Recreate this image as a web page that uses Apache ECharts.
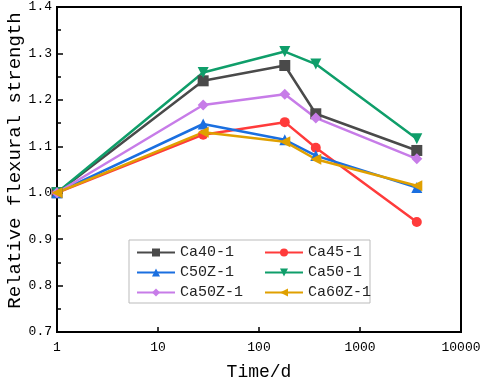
<!DOCTYPE html>
<html>
<head>
<meta charset="utf-8">
<script src="https://cdn.jsdelivr.net/npm/echarts@6/dist/echarts.min.js"></script>
<style>
html, body { margin: 0; padding: 0; background: #fff; }
#main { width: 484px; height: 385px; }
</style>
</head>
<body>
<div id="main"></div>
<script>
var days = [1, 28, 180, 365, 3650];
var ca40 = [1.0, 1.241, 1.274, 1.170, 1.091];
var ca45 = [1.0, 1.125, 1.152, 1.097, 0.937];
var c50z = [1.0, 1.148, 1.114, 1.080, 1.011];
var ca50 = [1.0, 1.259, 1.304, 1.277, 1.116];
var ca50z = [1.0, 1.189, 1.212, 1.161, 1.073];
var ca60z = [1.0, 1.130, 1.110, 1.072, 1.015];

var font = 'Liberation Mono';

function pairs(vals) {
    return days.map(function (d, i) { return [d, vals[i]]; });
}

function line(name, vals, color, symbol, rotate) {
    return {
        name: name,
        type: 'line',
        data: pairs(vals),
        symbol: symbol,
        symbolSize: symbol === 'circle' ? 10 : 11,
        symbolRotate: rotate || 0,
        lineStyle: { color: color, width: 2.5 },
        itemStyle: { color: color },
        z: 3
    };
}

var myChart = echarts.init(document.getElementById('main'));
var legendText = { fontFamily: font, fontSize: 15, color: '#222' };
var option = {
    backgroundColor: '#fff',
    animation: false,
    grid: {
        left: 57, right: 23, top: 7, bottom: 53,
        outerBoundsMode: 'none',
        show: true, borderColor: '#000', borderWidth: 2
    },
    legend: [
        {
            data: ['Ca40-1', 'C50Z-1', 'Ca50Z-1'],
            orient: 'vertical',
            left: 131, top: 240,
            itemWidth: 38, itemHeight: 10, itemGap: 5,
            textStyle: legendText
        },
        {
            data: ['Ca45-1', 'Ca50-1', 'Ca60Z-1'],
            orient: 'vertical',
            left: 259, top: 240,
            itemWidth: 38, itemHeight: 10, itemGap: 5,
            textStyle: legendText
        }
    ],
    graphic: [{
        type: 'rect',
        shape: { x: 129, y: 240, width: 241, height: 63 },
        style: { fill: 'none', stroke: '#bbb', lineWidth: 1 },
        z: 1
    }],
    xAxis: {
        type: 'log',
        logBase: 10,
        min: 1,
        max: 10000,
        name: 'Time/d',
        nameLocation: 'middle',
        nameGap: 31,
        nameMoveOverlap: false,
        nameTextStyle: { fontFamily: font, fontSize: 18, color: '#000' },
        axisLine: { lineStyle: { color: '#000', width: 2 } },
        axisTick: { inside: true, length: 5, lineStyle: { color: '#000', width: 1.5 } },
        axisLabel: {
            fontFamily: font, fontSize: 13, color: '#000', margin: 9,
            formatter: function (v) { return String(v); }
        },
        splitLine: { show: false }
    },
    yAxis: {
        type: 'value',
        min: 0.7,
        max: 1.4,
        interval: 0.1,
        name: 'Relative flexural strength',
        nameLocation: 'middle',
        nameGap: 33,
        nameMoveOverlap: false,
        nameTextStyle: { fontFamily: font, fontSize: 19, color: '#000', padding: [0, 0, 0, 18] },
        axisLine: { show: true, lineStyle: { color: '#000', width: 2 } },
        axisTick: { inside: true, length: 6, lineStyle: { color: '#000', width: 1.5 } },
        minorTick: { show: true, splitNumber: 2, length: 4, lineStyle: { color: '#000', width: 1.5 } },
        axisLabel: {
            fontFamily: font, fontSize: 13, color: '#000', margin: 5,
            formatter: function (v) { return v.toFixed(1); }
        },
        splitLine: { show: false }
    },
    series: [
        line('Ca40-1', ca40, '#4a4a4a', 'rect'),
        line('Ca45-1', ca45, '#ff3b3b', 'circle'),
        line('C50Z-1', c50z, '#1a6fe0', 'triangle'),
        line('Ca50-1', ca50, '#0f9e6a', 'triangle', 180),
        line('Ca50Z-1', ca50z, '#c77ce8', 'diamond'),
        line('Ca60Z-1', ca60z, '#e0a000', 'triangle', 90)
    ]
};
myChart.setOption(option);
</script>
</body>
</html>
